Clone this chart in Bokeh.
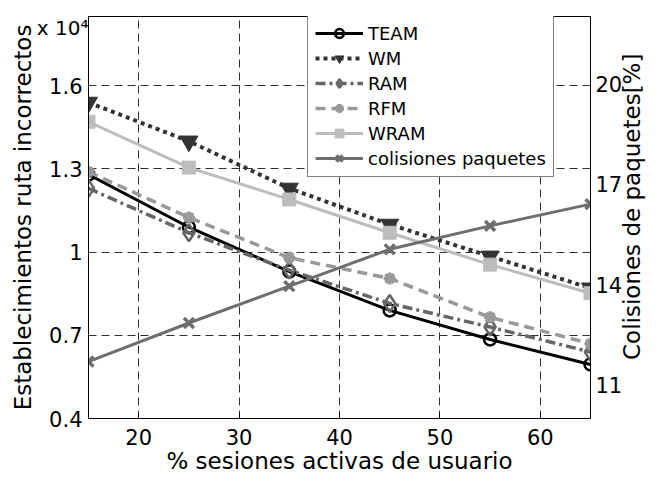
import math
from bokeh.plotting import figure
from bokeh.models import Range1d, LinearAxis, FixedTicker, Legend, LegendItem
from bokeh.embed import file_html
from bokeh.resources import INLINE

# ---- data (left axis values are in units of 10^4) ----
x_pct = [15, 25, 35, 45, 55, 65]
team = [1.28, 1.09, 0.93, 0.79, 0.685, 0.595]
wm = [1.54, 1.40, 1.23, 1.10, 0.985, 0.87]
ram = [1.23, 1.07, 0.935, 0.815, 0.73, 0.64]
rfm = [1.29, 1.125, 0.98, 0.905, 0.765, 0.67]
wram = [1.47, 1.305, 1.19, 1.07, 0.955, 0.852]
colisiones = [11.7, 12.85, 13.95, 15.05, 15.75, 16.4]

x_ticks = [20, 30, 40, 50, 60]
left_ticks = [0.4, 0.7, 1.0, 1.3, 1.6]
left_tick_labels = ["0.4", "0.7", "1", "1.3", "1.6"]
right_ticks = [11, 14, 17, 20]
multiplier_text = "x 10\u2074"
right_label = "Colisiones de paquetes[%]"

X_MIN, X_MAX = 15, 65
Y_MIN, Y_MAX = 0.4, 1.85
Y2_MIN, Y2_MAX = 10, 22

FONT = "DejaVu Sans"
TICK_SIZE = "21px"
LABEL_SIZE = "23px"

W, H = 661, 479
B_LEFT, B_RIGHT, B_TOP, B_BOTTOM = 88, 63, 16, 61

p = figure(width=W, height=H, output_backend="svg", toolbar_location=None,
           x_range=Range1d(X_MIN, X_MAX), y_range=Range1d(Y_MIN, Y_MAX),
           min_border_left=B_LEFT, min_border_right=B_RIGHT,
           min_border_top=B_TOP, min_border_bottom=B_BOTTOM)
p.extra_y_ranges = {"right": Range1d(Y2_MIN, Y2_MAX)}
p.outline_line_color = "black"
p.outline_line_width = 1
p.background_fill_color = "white"
p.border_fill_color = "white"

p.xaxis.ticker = FixedTicker(ticks=x_ticks)
p.yaxis.ticker = FixedTicker(ticks=left_ticks)
p.yaxis.major_label_overrides = dict(zip(left_ticks, left_tick_labels))
p.xaxis.axis_label = "% sesiones activas de usuario"
p.yaxis.axis_label = "Establecimientos ruta incorrectos"

ra = LinearAxis(y_range_name="right", ticker=FixedTicker(ticks=right_ticks))
# label reading bottom-to-top; it is anchored at its start, so it is
# anchored at the bottom of the axis and led in with figure spaces
try:
    ra.axis_label_align = "start"
    ra.axis_label = "\u2007\u2007\u2007\u2007" + right_label
    ra.axis_label_orientation = math.pi / 2
except Exception:
    ra.axis_label = right_label
p.add_layout(ra, "right")

for ax in [p.xaxis[0], p.yaxis[0], ra]:
    ax.major_tick_in = 5
    ax.major_tick_out = 0
    ax.minor_tick_line_color = None
    ax.axis_line_color = "black"
    ax.major_tick_line_color = "black"
    ax.major_label_text_font = FONT
    ax.major_label_text_font_size = TICK_SIZE
    ax.major_label_text_color = "black"
    ax.axis_label_text_font = FONT
    ax.axis_label_text_font_size = LABEL_SIZE
    ax.axis_label_text_font_style = "normal"
    ax.axis_label_text_color = "black"
p.yaxis.major_tick_in = 0
p.xaxis.major_label_standoff = 10
p.xaxis.axis_label_standoff = 0
p.yaxis.major_label_standoff = 6
p.yaxis.axis_label_standoff = 10
ra.major_label_standoff = 5
ra.axis_label_standoff = 7

# "x 10^4" multiplier: a one-tick axis above the frame, label pulled down
# beside the top-left corner (tiny negative angle -> right-aligned text)
mult_axis = LinearAxis(ticker=FixedTicker(ticks=[X_MIN]),
                       major_label_overrides={X_MIN: multiplier_text})
mult_axis.axis_line_color = None
mult_axis.major_tick_line_color = None
mult_axis.minor_tick_line_color = None
mult_axis.major_label_orientation = -1e-9
mult_axis.major_label_text_font = FONT
mult_axis.major_label_text_font_size = "20px"
mult_axis.major_label_text_color = "black"
mult_axis.major_label_standoff = -17
p.add_layout(mult_axis, "above")

p.xgrid.ticker = FixedTicker(ticks=x_ticks)
p.ygrid.ticker = FixedTicker(ticks=left_ticks)
for g in [p.xgrid[0], p.ygrid[0]]:
    g.grid_line_color = "#303030"
    g.grid_line_dash = "8 5"
    g.grid_line_width = 1

items = []

l1 = p.line(x_pct, team, line_color="black", line_width=3)
s1 = p.scatter(x_pct, team, marker="circle", size=12, line_color="black",
               line_width=2.5, fill_alpha=0)
items.append(LegendItem(label="TEAM", renderers=[l1, s1]))

l2 = p.line(x_pct, wm, line_color="#333333", line_width=4, line_dash="4 4")
s2 = p.scatter(x_pct, wm, marker="inverted_triangle", size=18, line_color="#333333",
               fill_color="#333333", line_width=1)
items.append(LegendItem(label="WM", renderers=[l2, s2]))

l3 = p.line(x_pct, ram, line_color="#666666", line_width=3.5, line_dash="10 4 3 4")
s3 = p.scatter(x_pct, ram, marker="diamond", size=17, line_color="#666666",
               line_width=2.5, fill_alpha=0)
items.append(LegendItem(label="RAM", renderers=[l3, s3]))

l4 = p.line(x_pct, rfm, line_color="#999999", line_width=3.5, line_dash="10 6")
s4 = p.scatter(x_pct, rfm, marker="asterisk", size=12, line_color="#999999",
               line_width=3.5)
items.append(LegendItem(label="RFM", renderers=[l4, s4]))

l5 = p.line(x_pct, wram, line_color="#bdbdbd", line_width=3)
s5 = p.scatter(x_pct, wram, marker="square", size=13, line_color="#bdbdbd",
               fill_color="#bdbdbd", line_width=1)
items.append(LegendItem(label="WRAM", renderers=[l5, s5]))

l6 = p.line(x_pct, colisiones, line_color="#6e6e6e", line_width=3, y_range_name="right")
s6 = p.scatter(x_pct, colisiones, marker="x", size=14, line_color="#6e6e6e",
               line_width=3.5, y_range_name="right")
items.append(LegendItem(label="colisiones paquetes", renderers=[l6, s6]))

legend = Legend(items=items, location=(219, 241))
legend.border_line_color = "black"
legend.border_line_width = 1
legend.background_fill_color = "white"
legend.background_fill_alpha = 1
legend.label_text_font = FONT
legend.label_text_font_size = "18px"
legend.label_text_color = "black"
legend.glyph_width = 48
legend.glyph_height = 22
legend.label_height = 22
legend.spacing = 3
legend.padding = 7
legend.margin = 0
legend.label_standoff = 5
p.add_layout(legend)

open("out.html", "w").write(file_html(p, INLINE))
